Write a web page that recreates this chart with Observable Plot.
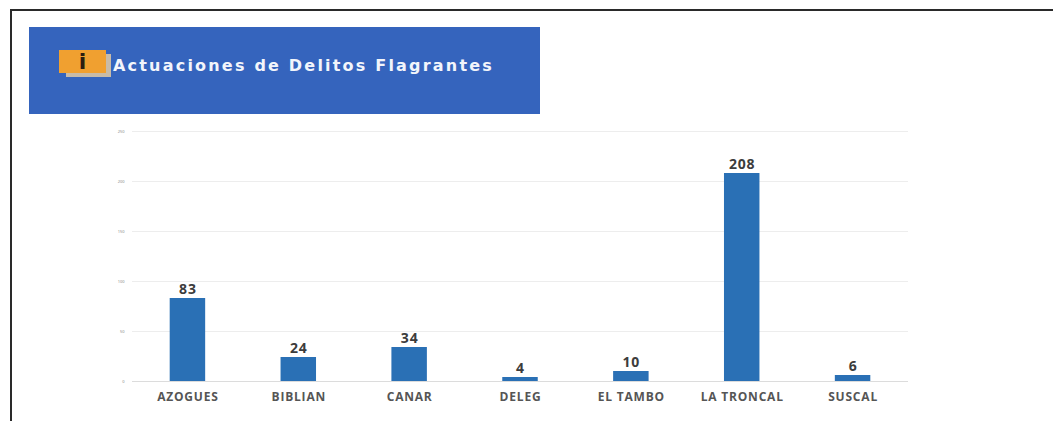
<!DOCTYPE html>
<html lang="es">
<head>
<meta charset="utf-8">
<script src="https://cdn.jsdelivr.net/npm/d3@7"></script>
<script src="https://cdn.jsdelivr.net/npm/@observablehq/plot@0.6"></script>
<style>
  html, body { margin: 0; padding: 0; background: #fff; }
  #page { position: relative; width: 1053px; height: 421px; overflow: hidden; }
  #frame { position: absolute; left: 10px; top: 9px; right: -4px; bottom: -4px; border-left: 2px solid #2a2a2a; border-top: 2px solid #2a2a2a; }
  #banner { position: absolute; left: 29px; top: 27px; width: 511px; height: 87px; background: #3564bd; }
  #icon-shadow { position: absolute; left: 37px; top: 27px; width: 45px; height: 23px; background: #c8bba8; }
  #icon { position: absolute; left: 30px; top: 23px; width: 47px; height: 23px; background: #f0a030; color: #2b1d10; font: bold 22px/23px "DejaVu Sans", sans-serif; text-align: center; }
  #title { position: absolute; left: 84px; top: 29px; color: #f2f5fb; font: bold 16px/20px "DejaVu Sans", sans-serif; letter-spacing: 2.2px; white-space: nowrap; }
  #chart { position: absolute; left: 0; top: 0; }
  #chart [aria-label="x-axis tick label"] { letter-spacing: 0.8px; }
  #chart [aria-label="text"] { letter-spacing: 0.8px; }
</style>
</head>
<body>
<div id="page">
  <div id="frame"></div>
  <div id="chart"></div>
  <div id="banner">
    <div id="icon-shadow"></div>
    <div id="icon">i</div>
    <div id="title">Actuaciones de Delitos Flagrantes</div>
  </div>
</div>
<script>
  // Actuaciones por cantón
  const cantones = ["AZOGUES", "BIBLIAN", "CANAR", "DELEG", "EL TAMBO", "LA TRONCAL", "SUSCAL"];
  const actuaciones = [83, 24, 34, 4, 10, 208, 6];
  const marcasY = [0, 50, 100, 150, 200, 250];

  const filas = cantones.map((canton, i) => ({canton, total: actuaciones[i]}));

  const chart = Plot.plot({
    width: 1053,
    height: 421,
    marginTop: 131,
    marginBottom: 40,
    marginLeft: 132,
    marginRight: 145,
    style: {background: "transparent"},
    x: {domain: cantones, paddingInner: 0.68, paddingOuter: 0.34, round: false, label: null},
    y: {domain: [0, 250], ticks: marcasY, label: null},
    marks: [
      Plot.gridY(marcasY, {stroke: "#ededed", strokeOpacity: 1}),
      Plot.ruleY([0], {stroke: "#dcdcdc"}),
      Plot.axisY(marcasY, {fontSize: 4, color: "#8a8a8a", tickSize: 0, tickPadding: 8, label: null}),
      Plot.axisX({fontSize: 12, fontFamily: "Open Sans", fontWeight: 700, color: "#555", tickSize: 0, tickPadding: 11, label: null}),
      Plot.barY(filas, {x: "canton", y: "total", fill: "#2a70b5"}),
      Plot.text(filas, {x: "canton", y: "total", text: d => String(d.total), dy: -9, fontSize: 14, fontWeight: 700, fontFamily: "Open Sans", fill: "#3c3c3c"})
    ]
  });
  document.getElementById("chart").append(chart);
</script>
</body>
</html>
